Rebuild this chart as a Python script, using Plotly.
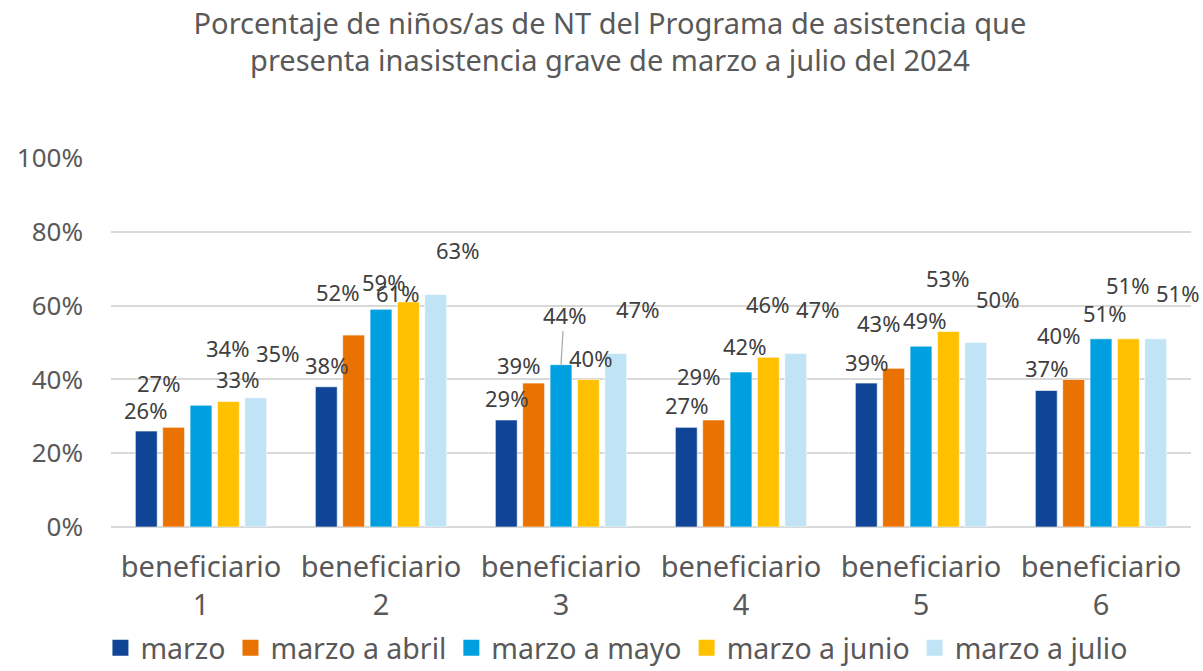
import plotly.graph_objects as go

categories = ["beneficiario<br>1", "beneficiario<br>2", "beneficiario<br>3",
              "beneficiario<br>4", "beneficiario<br>5", "beneficiario<br>6"]
series_names = ["marzo", "marzo a abril", "marzo a mayo", "marzo a junio", "marzo a julio"]
marzo = [0.26, 0.38, 0.29, 0.27, 0.39, 0.37]
marzo_abril = [0.27, 0.52, 0.39, 0.29, 0.43, 0.40]
marzo_mayo = [0.33, 0.59, 0.44, 0.42, 0.49, 0.51]
marzo_junio = [0.34, 0.61, 0.40, 0.46, 0.53, 0.51]
marzo_julio = [0.35, 0.63, 0.47, 0.47, 0.50, 0.51]
series_values = [marzo, marzo_abril, marzo_mayo, marzo_junio, marzo_julio]
colors = ["#0F4496", "#E97200", "#00A0E0", "#FFC000", "#C0E4F5"]
y_tick_vals = [0, 0.2, 0.4, 0.6, 0.8, 1.0]
y_tick_text = ["0%", "20%", "40%", "60%", "80%", "100%"]

# manual label offsets (pixels) as placed in the original chart
label_dx = [
    [-1, 0, 0, 0, 0, 0],
    [-15, -16, -15, -15, -15, -15],
    [36, 2, 3, 3, 3, 3],
    [-1, -11, 2, -1, -1, -1],
    [22, 22, 22, 22, 22, 22],
]
label_dy = [
    [21, 22, 22, 22, 21, 22],
    [44, 43, 18, 44, 45, 44],
    [26, 27, 50, 26, 26, 26],
    [54, 9, 21, 53, 53, 54],
    [45, 45, 45, 45, 44, 46],
]
leader = [[False] * 6 for _ in range(5)]
leader[2][2] = True

FONT = "Noto Sans"
TXT = "#595959"

fig = go.Figure()
for name, vals, col in zip(series_names, series_values, colors):
    fig.add_trace(go.Bar(
        name=name, x=list(range(len(categories))), y=vals, showlegend=False,
        marker=dict(color=col, line=dict(color="rgba(255,255,255,0.6)", width=1)),
        hoverinfo="skip",
    ))
# legend entries with larger square swatches
for name, col in zip(series_names, colors):
    fig.add_trace(go.Scatter(
        name=name, x=[None], y=[None], mode="markers",
        marker=dict(symbol="square", size=17, color=col), showlegend=True,
    ))

bargap = 0.24
slot = (1 - bargap) / len(series_names)
annotations = []
for s, vals in enumerate(series_values):
    for i, v in enumerate(vals):
        xpos = i + (s - (len(series_names) - 1) / 2) * slot
        txt = f"{round(v * 100)}%"
        if leader[s][i]:
            annotations.append(dict(
                x=xpos, y=v, xref="x", yref="y", text=txt, showarrow=True,
                arrowhead=0, arrowwidth=1.2, arrowcolor="#A6A6A6",
                ax=label_dx[s][i], ay=-label_dy[s][i], standoff=0,
                font=dict(family=FONT, size=22, color="#404040"),
            ))
        else:
            annotations.append(dict(
                x=xpos, y=v, xref="x", yref="y", text=txt, showarrow=False,
                xshift=label_dx[s][i], yshift=label_dy[s][i], yanchor="middle",
                font=dict(family=FONT, size=22, color="#404040"),
            ))

fig.update_layout(
    barmode="group", bargap=bargap, bargroupgap=0.2,
    width=1203, height=671,
    margin=dict(l=111, r=12, t=158, b=144, autoexpand=False),
    plot_bgcolor="white", paper_bgcolor="white",
    font=dict(family=FONT, color=TXT),
    title=dict(
        text="Porcentaje de niños/as de NT del Programa de asistencia que<br>presenta inasistencia grave de marzo a julio del 2024",
        x=0.507, xanchor="center", y=0.95, yanchor="top", yref="container",
        font=dict(family=FONT, size=29, color=TXT),
    ),
    xaxis=dict(
        tickmode="array", tickvals=list(range(len(categories))), ticktext=categories,
        range=[-0.5, len(categories) - 0.5],
        tickfont=dict(family=FONT, size=29, color=TXT), showgrid=False,
        showline=False, ticks="", ticklabelstandoff=20,
    ),
    yaxis=dict(
        range=[0, 1.0], tickvals=y_tick_vals, ticktext=y_tick_text,
        tickfont=dict(family=FONT, size=26, color=TXT),
        showgrid=True, gridcolor="#D9D9D9", gridwidth=1.5,
        zeroline=True, zerolinecolor="#D9D9D9", zerolinewidth=1.5,
        showline=False, ticks="", ticklabelstandoff=27,
    ),
    legend=dict(
        orientation="h", x=0.468, xanchor="center", y=0.034, yanchor="middle",
        yref="container", font=dict(family=FONT, size=28.5, color=TXT),
        itemwidth=30, traceorder="normal",
    ),
    annotations=annotations,
)

fig.write_html("out.html", config={"displayModeBar": False},
               post_script="document.body.style.margin='0';")
